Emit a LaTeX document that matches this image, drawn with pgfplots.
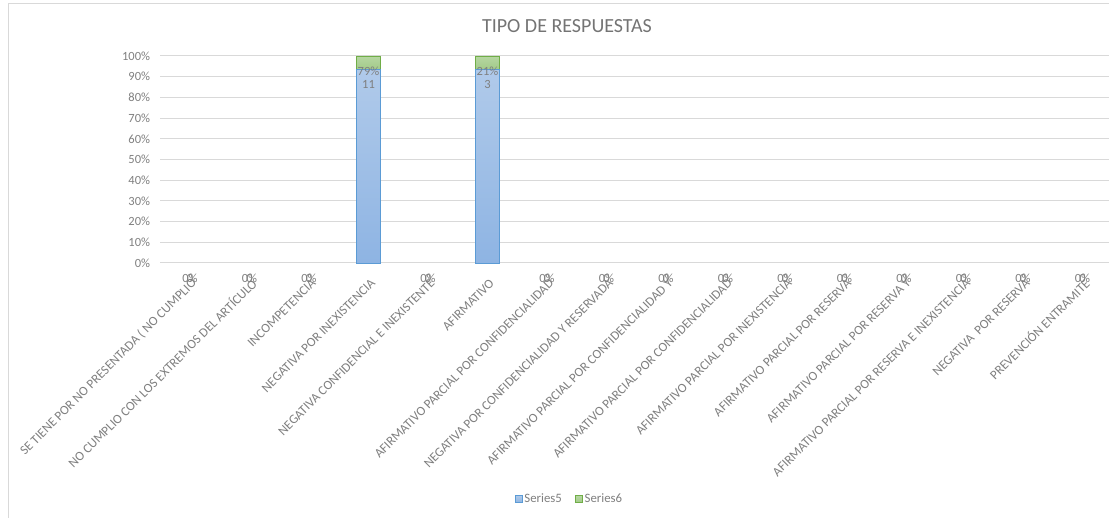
\documentclass[border=0pt]{standalone}
\usepackage{pgfplots}
\pgfplotsset{compat=1.18}
\usepackage{fontspec}
\setmainfont{Carlito}
\definecolor{txt}{HTML}{7F7F7F}
\definecolor{ttl}{HTML}{747474}
\definecolor{gridc}{HTML}{D9D9D9}
\definecolor{bTop}{HTML}{B0CAEA}
\definecolor{bBot}{HTML}{8EB4E3}
\definecolor{bLine}{HTML}{5B9BD5}
\definecolor{gTop}{HTML}{B6D7A2}
\definecolor{gBot}{HTML}{A2CA88}
\definecolor{gLine}{HTML}{70AD47}
\pgfplotsset{base/.style={
  at={(160.25pt,255pt)}, anchor=south west,
  scale only axis, width=948.75pt, height=207pt,
  xmin=-0.5, xmax=15.445, ymin=0, ymax=100, clip=false}}
\begin{document}
\begin{tikzpicture}[x=1pt,y=1pt]
\path[use as bounding box] (0,0) rectangle (1109,518);
\draw[gridc, line width=0.75pt] (8,-5) rectangle (1125,515);
\node[font=\fontsize{20}{24}\selectfont, text=ttl] at (567,491.5) {TIPO DE RESPUESTAS};
\begin{axis}[base,
  ybar stacked, bar width=24pt,
  axis line style={draw=none},
  major tick length=0pt,
  ymajorgrids, grid style={gridc, line width=1pt},
  ytick={0,10,20,30,40,50,60,70,80,90,100},
  yticklabels={0\%,10\%,20\%,30\%,40\%,50\%,60\%,70\%,80\%,90\%,100\%},
  yticklabel style={font=\fontsize{12.5}{14}\selectfont, text=txt, inner sep=0pt, xshift=-10pt, anchor=east},
  xtick={0,1,2,3,4,5,6,7,8,9,10,11,12,13,14,15},
  xticklabels={{SE TIENE POR NO PRESENTADA ( NO CUMPLIO},{NO CUMPLIO CON LOS EXTREMOS DEL ARTÍCULO},{INCOMPETENCIA},{NEGATIVA POR INEXISTENCIA},{NEGATIVA CONFIDENCIAL E INEXISTENTE},{AFIRMATIVO},{AFIRMATIVO PARCIAL POR CONFIDENCIALIDAD},{NEGATIVA POR CONFIDENCIALIDAD Y RESERVADA},{AFIRMATIVO PARCIAL POR CONFIDENCIALIDAD Y},{AFIRMATIVO PARCIAL POR CONFIDENCIALIDAD},{AFIRMATIVO PARCIAL POR INEXISTENCIA},{AFIRMATIVO PARCIAL POR RESERVA},{AFIRMATIVO PARCIAL POR RESERVA Y},{AFIRMATIVO PARCIAL POR RESERVA E INEXISTENCIA},{NEGATIVA \ POR RESERVA},{PREVENCIÓN ENTRAMITE}},
  xticklabel style={font=\fontsize{13}{14}\selectfont, text=txt, inner sep=0pt, xshift=4.5pt, yshift=-18pt, rotate=45, anchor=east},
  every node near coord/.append style={font=\fontsize{12.5}{14}\selectfont, text=txt, inner sep=0pt, anchor=center},
  legend style={at={(0.4313,-1.140)}, anchor=center, draw=none, fill=none, legend columns=2,
    font=\fontsize{12.8}{14}\selectfont, text=txt,
    /tikz/every even column/.append style={column sep=11pt},
    legend cell align=left},
]
% Series5 (count 11 and 3), shown as share of the 100% stack
\addplot[draw=bLine, line width=0.75pt, top color=bTop, bottom color=bBot,
  point meta=explicit symbolic, nodes near coords,
  every node near coord/.append style={yshift=81.6pt},
  legend image code/.code={\draw[draw=bLine, line width=0.75pt, fill=bTop] (0pt,-3.5pt) rectangle (7pt,3.5pt);}]
  coordinates {(3,93.30)[11] (5,93.46)[3]};
\addlegendentry{Series5}
% Series6 (79% and 21%)
\addplot[draw=gLine, line width=0.75pt, top color=gTop, bottom color=gBot,
  point meta=explicit symbolic, nodes near coords={\pgfplotspointmeta\%},
  every node near coord/.append style={yshift=-8.1pt},
  legend image code/.code={\draw[draw=gLine, line width=0.75pt, fill=gTop] (0pt,-3.5pt) rectangle (7pt,3.5pt);}]
  coordinates {(3,6.70)[79] (5,6.54)[21]};
\addlegendentry{Series6}
\end{axis}
% labels of the zero-valued categories (Series5 "0", Series6 "0%")
\begin{axis}[base, hide axis,
  every node near coord/.append style={font=\fontsize{12.5}{14}\selectfont, text=txt, inner sep=0pt, anchor=center, yshift=-15pt}]
\addplot[only marks, mark=none, point meta=explicit symbolic, nodes near coords]
  coordinates {(0,0)[0] (1,0)[0] (2,0)[0] (4,0)[0] (6,0)[0] (7,0)[0] (8,0)[0] (9,0)[0] (10,0)[0] (11,0)[0] (12,0)[0] (13,0)[0] (14,0)[0] (15,0)[0]};
\addplot[only marks, mark=none, point meta=explicit symbolic, nodes near coords={\pgfplotspointmeta\%}]
  coordinates {(0,0)[0] (1,0)[0] (2,0)[0] (4,0)[0] (6,0)[0] (7,0)[0] (8,0)[0] (9,0)[0] (10,0)[0] (11,0)[0] (12,0)[0] (13,0)[0] (14,0)[0] (15,0)[0]};
\end{axis}
\end{tikzpicture}
\end{document}
